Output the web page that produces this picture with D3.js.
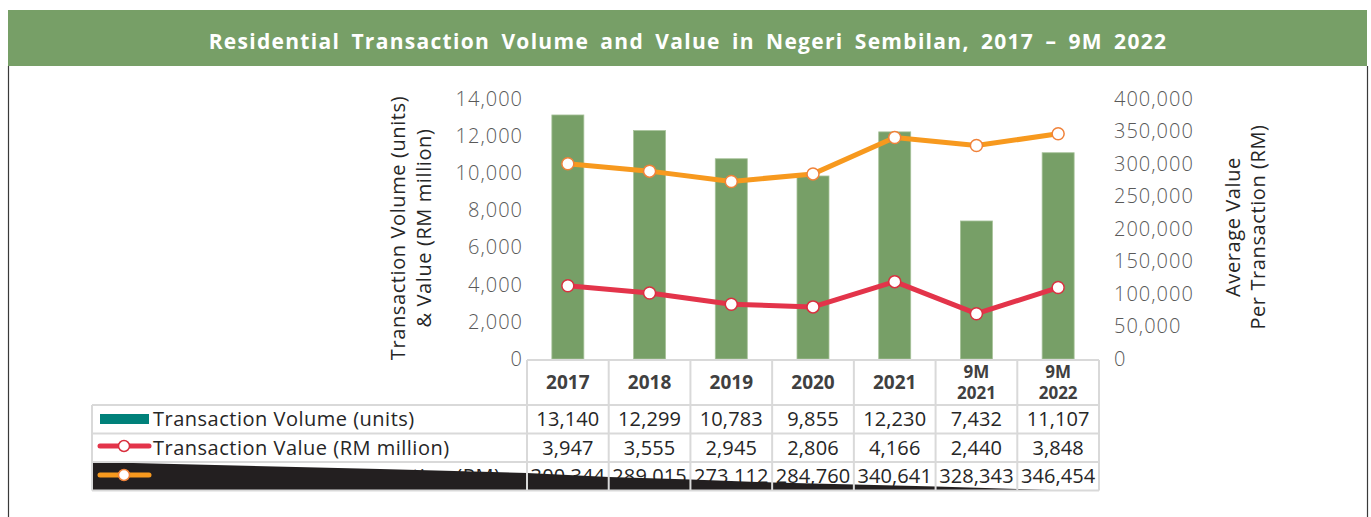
<!DOCTYPE html>
<html><head><meta charset="utf-8">
<script src="https://cdn.jsdelivr.net/npm/d3@7"></script>
<style>
html,body{margin:0;padding:0;background:#fff;}
svg{display:block;font-family:"Open Sans",sans-serif;}
</style></head><body>
<svg id="c" width="1371" height="517"></svg>
<script>
const categories = ["2017","2018","2019","2020","2021","9M 2021","9M 2022"];
const volume = [13140,12299,10783,9855,12230,7432,11107];
const value = [3947,3555,2945,2806,4166,2440,3848];
const avgValue = [300344,289015,273112,284760,340641,328343,346454];
const leftTicks = [0,2000,4000,6000,8000,10000,12000,14000];
const rightTicks = [0,50000,100000,150000,200000,250000,300000,350000,400000];
const seriesNames = ["Transaction Volume (units)","Transaction Value (RM million)","Average Value Per Transaction (RM)"];
const title = "Residential Transaction Volume and Value in Negeri Sembilan, 2017 \u2013 9M 2022";

const svg = d3.select("#c");
const fmt = d3.format(",");
const cBar = "#779f67", cRed = "#e3344a", cOrange = "#f7991e", cTeal = "#00817a", grid = "#d9d9d9";

// frame
svg.append("rect").attr("x",8).attr("y",10).attr("width",1359).attr("height",56).attr("fill","#779f67");
svg.append("text").attr("x",688).attr("y",48.5).attr("text-anchor","middle").attr("fill","#fff")
  .attr("font-size",21).attr("font-weight",700).attr("letter-spacing",1.3).attr("word-spacing",4.5).text(title);
svg.append("line").attr("x1",8.5).attr("x2",8.5).attr("y1",66).attr("y2",517).attr("stroke","#3a3a3a").attr("stroke-width",1.2);
svg.append("line").attr("x1",1367.5).attr("x2",1367.5).attr("y1",66).attr("y2",517).attr("stroke","#3a3a3a").attr("stroke-width",1.2);

const x = d3.scaleBand().domain(categories).range([527,1099]).padding(0);
const y = d3.scaleLinear().domain([0,14000]).range([359,99]);
const y2 = d3.scaleLinear().domain([0,400000]).range([359,99]);

// axes
const gl = svg.append("g").attr("transform","translate(526,0)")
  .call(d3.axisLeft(y).tickValues(leftTicks).tickFormat(fmt).tickSize(0).tickPadding(3));
const gr = svg.append("g").attr("transform","translate(1111,0)")
  .call(d3.axisRight(y2).tickValues(rightTicks).tickFormat(fmt).tickSize(0).tickPadding(3));
[gl,gr].forEach(g=>{
  g.select(".domain").remove();
  g.selectAll("text").attr("font-size",20).attr("fill","#595959").attr("font-family","Open Sans").attr("font-weight",300).attr("letter-spacing",1.0);
});

// axis titles
const lt = svg.append("text").attr("transform","translate(405,228) rotate(-90)").attr("text-anchor","middle")
  .attr("font-size",20).attr("fill","#262626").attr("letter-spacing",0.6);
lt.append("tspan").attr("x",0).attr("dy",0).text("Transaction Volume (units)");
lt.append("tspan").attr("x",0).attr("dy",26).text("& Value (RM million)");
const rt = svg.append("text").attr("transform","translate(1240,227) rotate(-90)").attr("text-anchor","middle")
  .attr("font-size",20).attr("fill","#262626").attr("letter-spacing",0.6);
rt.append("tspan").attr("x",0).attr("dy",0).text("Average Value");
rt.append("tspan").attr("x",0).attr("dy",25).text("Per Transaction (RM)");

// bars
const bw = 32;
svg.append("g").selectAll("rect").data(volume).join("rect")
  .attr("x",(d,i)=>x(categories[i])+x.bandwidth()/2-bw/2).attr("width",bw)
  .attr("y",d=>y(d)).attr("height",d=>y(0)-y(d))
  .attr("fill",cBar).attr("stroke","#a7c29a").attr("stroke-width",0.8);

function drawLine(data, scale, color, stroke){
  const cx = (d,i)=>x(categories[i])+x.bandwidth()/2;
  svg.append("path").datum(data)
    .attr("d", d3.line().x(cx).y(d=>scale(d)))
    .attr("fill","none").attr("stroke",color).attr("stroke-width",5).attr("stroke-linejoin","round");
  svg.append("g").selectAll("circle").data(data).join("circle")
    .attr("cx",cx).attr("cy",d=>scale(d)).attr("r",6)
    .attr("fill","#fff").attr("stroke",stroke).attr("stroke-width",1.5);
}
drawLine(avgValue, y2, cOrange, "#f0823a");
drawLine(value, y, cRed, "#d9303f");

// table
const rowsY = [405,433.5,462,490.5];
const t = svg.append("g");
categories.forEach((c,i)=>{
  const cx = x(c)+x.bandwidth()/2;
  const parts = c.split(" ");
  if(parts.length===1){
    t.append("text").attr("text-anchor","middle").attr("font-size",19).attr("font-weight",700).attr("fill","#404040")
      .attr("x",cx).attr("y",389).text(c);
  } else {
    t.append("text").attr("text-anchor","middle").attr("font-size",17).attr("font-weight",700).attr("fill","#404040")
      .attr("x",cx).attr("y",378).text(parts[0]);
    t.append("text").attr("text-anchor","middle").attr("font-size",17).attr("font-weight",700).attr("fill","#404040")
      .attr("x",cx).attr("y",399).text(parts[1]);
  }
});
const rowData = [volume, value, avgValue];
rowData.forEach((arr,r)=>{
  const ymid = (rowsY[r]+rowsY[r+1])/2;
  arr.forEach((v,i)=>{
    t.append("text").attr("x",x(categories[i])+x.bandwidth()/2).attr("y",ymid+7)
      .attr("text-anchor","middle").attr("font-size",20).attr("fill","#262626").attr("letter-spacing",0.1).text(fmt(v));
  });
  t.append("text").attr("x",153).attr("y",ymid+7).attr("font-size",20).attr("fill","#262626").attr("letter-spacing",0.5).text(seriesNames[r]);
});

// black overlay shape on third row
const blackPts = [[92,462],[380,469],[527,473],[609,477],[691,479.5],[773,482.5],[854,484.5],[936,486.5],[1018,489],[1068,490.5],[92,490.5]];
svg.append("path").attr("d", d3.line()(blackPts)+"Z").attr("fill","#231f20");

// grid
const gg = svg.append("g").attr("stroke",grid).attr("stroke-width",2).attr("fill","none");
gg.append("line").attr("x1",527).attr("x2",1099).attr("y1",360).attr("y2",360);
rowsY.forEach(yy=>gg.append("line").attr("x1",92).attr("x2",1099).attr("y1",yy).attr("y2",yy));
gg.append("line").attr("x1",92).attr("x2",92).attr("y1",405).attr("y2",490.5);
x.domain().forEach(c=>gg.append("line").attr("x1",x(c)).attr("x2",x(c)).attr("y1",360).attr("y2",490.5));
gg.append("line").attr("x1",1099).attr("x2",1099).attr("y1",360).attr("y2",490.5);

// legend swatches
svg.append("rect").attr("x",100).attr("y",414).attr("width",49).attr("height",10).attr("fill",cTeal);
function swatch(yy,color,stroke){
  svg.append("line").attr("x1",100).attr("x2",149).attr("y1",yy).attr("y2",yy).attr("stroke",color).attr("stroke-width",5).attr("stroke-linecap","round");
  svg.append("circle").attr("cx",124).attr("cy",yy).attr("r",5.5).attr("fill","#fff").attr("stroke",stroke).attr("stroke-width",1.5);
}
swatch(446,cRed,"#d9303f");
swatch(475,cOrange,"#f0823a");
</script>
</body></html>
